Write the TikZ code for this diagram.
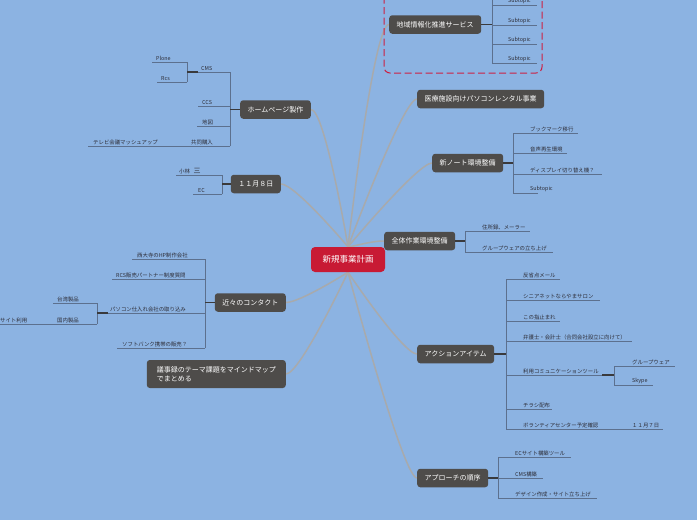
\documentclass[tikz,border=0pt]{standalone}
\usepackage{fontspec}
\setmainfont{Noto Sans CJK JP}
\usetikzlibrary{backgrounds}
\definecolor{bg}{RGB}{140,179,226}
\definecolor{topicfill}{RGB}{78,76,74}
\definecolor{centerfill}{RGB}{200,26,52}
\definecolor{trunkc}{RGB}{168,170,172}
\definecolor{sublinec}{RGB}{92,112,142}
\definecolor{stemc}{RGB}{58,58,60}
\definecolor{txt}{RGB}{45,45,55}
\definecolor{dashc}{RGB}{205,30,65}
\tikzset{
 topic/.style={fill=topicfill, text=white, rounded corners=3pt, inner xsep=7.5pt, inner ysep=0pt, minimum height=18.5pt, font=\fontsize{7}{8.5}\selectfont},
 central/.style={fill=centerfill, text=white, rounded corners=4pt, inner xsep=11.5pt, inner ysep=0pt, minimum height=25pt, font=\fontsize{8.5}{10}\selectfont},
 lbl/.style={anchor=south west, inner xsep=0pt, inner ysep=1.2pt, text=txt, font=\fontsize{5.4}{6}\selectfont},
 subl/.style={draw=sublinec, line width=0.9pt},
 stem/.style={draw=stemc, line width=1.6pt},
 trunkline/.style={draw=trunkc, line width=1.5pt},
}
\newcommand\subtop[6]{%
  \draw[subl] (#2,#4) -- (#3,#4);
  \node[lbl] (#1) at (#5,#4) {#6};
}
\begin{document}
\begin{tikzpicture}[x=1pt,y=-1pt]
\begin{scope}[on background layer]
\fill[bg] (0,0) rectangle (697,520);
\end{scope}
\useasboundingbox (0,0) rectangle (697,520);

% dashed boundary
\draw[dashc, line width=1pt, dash pattern=on 7pt off 3.5pt, rounded corners=6pt] (384,-20) rectangle (542,73);

% central and main topics
\node[central] (ctr) at (348,259.5) {新規事業計画};
\node[topic, anchor=west] (chiiki) at (389,24.5) {地域情報化推進サービス};
\node[topic, anchor=west] (iryo) at (417,99) {医療施設向けパソコンレンタル事業};
\node[topic, anchor=west] (note) at (432,163) {新ノート環境整備};
\node[topic, anchor=west] (zentai) at (384,241) {全体作業環境整備};
\node[topic, anchor=west] (action) at (417,354) {アクションアイテム};
\node[topic, anchor=west] (approach) at (417,478) {アプローチの順序};
\node[topic, anchor=east] (hp) at (311,109.5) {ホームページ製作};
\node[topic, anchor=east] (nov8) at (281,184) {１１月８日};
\node[topic, anchor=east] (contact) at (286,302.5) {近々のコンタクト};
\node[topic, anchor=east, align=left, minimum height=28pt, minimum width=139pt, inner ysep=2pt] (giji) at (286,374) {議事録のテーマ課題をマインドマップ\\でまとめる};

% trunk connectors (behind the nodes)
\begin{scope}[on background layer]
\draw[trunkline] (ctr.north) .. controls +(0,0) and +(-16,0) .. (chiiki.west);
\draw[trunkline] (ctr.north) .. controls +(0,0) and +(-14,0) .. (iryo.west);
\draw[trunkline] (ctr.north) .. controls +(0,0) and +(-14,0) .. (note.west);
\draw[trunkline] (ctr.north) .. controls +(5,0) and +(-14,0) .. (zentai.west);
\draw[trunkline] (ctr.north) .. controls +(0,0) and +(14,0) .. (hp.east);
\draw[trunkline] (ctr.north) .. controls +(0,0) and +(14,0) .. (nov8.east);
\draw[trunkline] (ctr.south) .. controls +(0,0) and +(14,0) .. (contact.east);
\draw[trunkline] (ctr.south) .. controls +(0,0) and +(14,0) .. (giji.east);
\draw[trunkline] (ctr.south) .. controls +(0,0) and +(-14,0) .. (action.west);
\draw[trunkline] (ctr.south) .. controls +(0,0) and +(-14,0) .. (approach.west);
\end{scope}

% --- 地域情報化推進サービス
\coordinate (vchiiki) at (492,24.5);
\draw[subl] (492,0) -- (492,63);
\subtop{c1}{492}{537}{5}{508}{Subtopic}
\subtop{c2}{492}{537}{25}{508}{Subtopic}
\subtop{c3}{492}{537}{44}{508}{Subtopic}
\subtop{c4}{492}{537}{63}{508}{Subtopic}
\draw[stem] (chiiki.east) -- (vchiiki);

% --- 新ノート環境整備
\coordinate (vnote) at (513,163);
\draw[subl] (513,133) -- (513,193);
\subtop{n1}{513}{578}{133}{530}{ブックマーク移行}
\subtop{n2}{513}{567}{153}{530}{音声再生環境}
\subtop{n3}{513}{602}{174}{530}{ディスプレイ切り替え機？}
\subtop{n4}{513}{538}{193}{530}{Subtopic}
\draw[stem] (note.east) -- (vnote);

% --- 全体作業環境整備
\coordinate (vzentai) at (465,241);
\draw[subl] (465,231) -- (465,252);
\subtop{z1}{465}{530}{231}{482}{住所録、メーラー}
\subtop{z2}{465}{553}{252}{482}{グループウェアの立ち上げ}
\draw[stem] (zentai.east) -- (vzentai);

% --- アクションアイテム
\coordinate (vaction) at (506,354);
\draw[subl] (506,279) -- (506,429);
\subtop{a1}{506}{560}{279}{523}{反省点メール}
\subtop{a2}{506}{600}{300}{523}{シニアネットならやまサロン}
\subtop{a3}{506}{560}{321}{523}{この指止まれ}
\subtop{a4}{506}{632}{341}{523}{弁護士・会計士（合同会社設立に向けて）}
\subtop{a5}{506}{604}{375}{523}{利用コミュニケーションツール}
\subtop{a6}{506}{552}{409}{523}{チラシ配布}
\subtop{a7}{506}{663}{429}{523}{ボランティアセンター予定確認}
\node[lbl] (a7a) at (632,429) {１１月７日};
\coordinate (va5) at (614,375);
\coordinate (va5s) at (602,375);
\draw[subl] (614,366) -- (614,385);
\subtop{a51}{614}{675}{366}{632}{グループウェア}
\subtop{a52}{614}{653}{385}{632}{Skype}
\draw[stem] (va5s) -- (va5);
\draw[stem] (action.east) -- (vaction);

% --- アプローチの順序
\coordinate (vappr) at (498,478);
\draw[subl] (498,457) -- (498,498);
\subtop{p1}{498}{571}{457}{515}{ECサイト構築ツール}
\subtop{p2}{498}{543}{478}{515}{CMS構築}
\subtop{p3}{498}{597}{498}{515}{デザイン作成・サイト立ち上げ}
\draw[stem] (approach.east) -- (vappr);

% --- ホームページ製作
\coordinate (vhp) at (230,109.5);
\draw[subl] (230,72) -- (230,146);
\subtop{h1}{230}{198}{72}{201}{CMS}
\subtop{h2}{230}{198}{106}{202}{CCS}
\subtop{h3}{230}{197}{126}{202}{地図}
\subtop{h4}{230}{88}{146}{191}{共同購入}
\node[lbl] (h4a) at (93,146) {テレビ会議マッシュアップ};
\coordinate (vcms) at (187,72);
\coordinate (vcmss) at (198,72);
\draw[subl] (187,62) -- (187,82);
\subtop{h11}{187}{152}{62}{156}{Plone}
\subtop{h12}{187}{157}{82}{161}{Rcs}
\draw[stem] (vcmss) -- (vcms);
\draw[stem] (hp.west) -- (vhp);

% --- １１月８日
\coordinate (vnov) at (222,184);
\draw[subl] (222,175) -- (222,194);
\subtop{d1}{222}{176}{175}{179}{小林\hspace{3.5pt}\fontsize{7}{8}\selectfont 三}
\subtop{d2}{222}{193}{194}{198}{EC}
\draw[stem] (nov8.west) -- (vnov);

% --- 近々のコンタクト
\coordinate (vcont) at (205,302.5);
\draw[subl] (205,259) -- (205,348);
\subtop{k1}{205}{132}{259}{137}{西大寺のHP制作会社}
\subtop{k2}{205}{112}{279}{116}{RCS販売パートナー制度質問}
\subtop{k3}{205}{97}{313}{110}{パソコン仕入れ会社の取り込み}
\subtop{k4}{205}{117}{348}{122}{ソフトバンク携帯の販売？}
\coordinate (vk3) at (97,313);
\coordinate (vk3s) at (108,313);
\draw[subl] (97,303) -- (97,324);
\subtop{k31}{97}{53}{303}{57}{台湾製品}
\subtop{k32}{97}{0}{324}{57}{国内製品}
\node[lbl] (k32a) at (0,324) {サイト利用};
\draw[stem] (vk3s) -- (vk3);
\draw[stem] (contact.west) -- (vcont);
\end{tikzpicture}
\end{document}
